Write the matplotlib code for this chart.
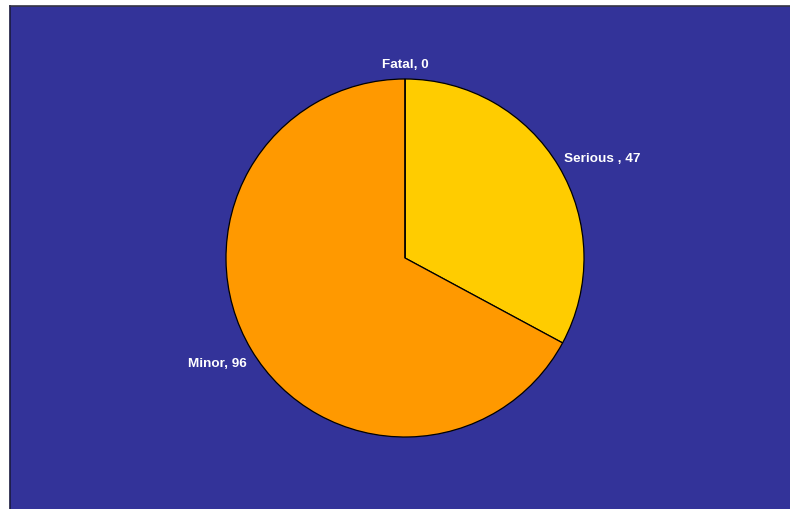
import matplotlib
matplotlib.use('Agg')
import matplotlib.pyplot as plt
import numpy as np

# Data
categories = ['Serious ', 'Minor', 'Fatal']
values = [47, 96, 0]
colors = ['#FFCC00', '#FF9900', '#FF6600']

W, H = 790, 510
fig = plt.figure(figsize=(W / 100, H / 100), dpi=100)
fig.patch.set_facecolor('white')

# Blue plot area with dark border on top/left
left, top = 10, 7
bg = fig.add_axes([left / W, 0, 1 - left / W, 1 - top / H], zorder=0)
bg.set_facecolor('#333399')
bg.set_xticks([])
bg.set_yticks([])
for side in ['right', 'bottom']:
    bg.spines[side].set_visible(False)
bg.spines['top'].set_color('#333344')
bg.spines['left'].set_color('#1a1a40')
bg.spines['top'].set_linewidth(1.2)
bg.spines['left'].set_linewidth(1.2)

# Pie axes: centre (405, 259), radius 179 px
cx, cy, r = 405, 259, 179
ax = fig.add_axes([(cx - r) / W, (H - cy - r) / H, 2 * r / W, 2 * r / H], zorder=2)
labels = [f'{c}, {v}' for c, v in zip(categories, values)]
wedges, texts = ax.pie(values, labels=labels, colors=colors, startangle=90,
                       counterclock=False, labeldistance=1.07,
                       wedgeprops=dict(edgecolor='black', linewidth=0.9),
                       textprops=dict(color='white', fontsize=9.7,
                                      fontweight='bold',
                                      family='Liberation Sans'))

# Excel-like label placement: labels sit a bit off the wedge mid-angle
dy = -0.013
for w, t in zip(wedges, texts):
    mid = np.deg2rad((w.theta1 + w.theta2) / 2)
    if w.theta2 - w.theta1 < 1e-6:
        t.set_position((0, 1.095 + dy))
        t.set_horizontalalignment('center')
    else:
        ang = mid + np.deg2rad(2)
        t.set_position((1.055 * np.cos(ang), 1.055 * np.sin(ang) + dy))

ax.set_xlim(-1, 1)
ax.set_ylim(-1, 1)
ax.axis('off')

fig.savefig('out.png', dpi=100, facecolor=fig.get_facecolor())
